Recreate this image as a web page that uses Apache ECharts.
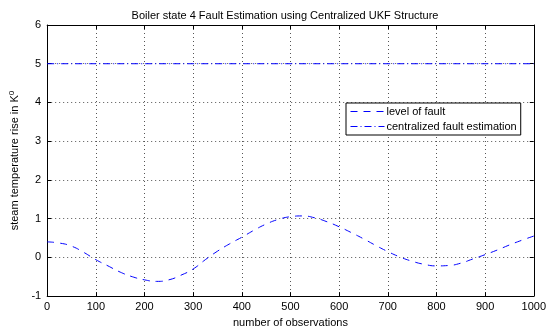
<!DOCTYPE html>
<html><head><meta charset="utf-8">
<script src="https://cdn.jsdelivr.net/npm/echarts@6/dist/echarts.min.js"></script>
<style>html,body{margin:0;padding:0;background:#fff}#c{width:549px;height:333px}</style>
</head><body><div id="c"></div>
<script>
var observations = [0,25,50,75,100,125,150,175,200,225,250,275,300,325,350,375,400,425,450,475,500,525,550,575,600,625,650,675,700,725,750,775,800,825,850,875,900,925,950,975,1000];
var levelOfFault = [0.40,0.37,0.29,0.13,-0.06,-0.22,-0.38,-0.50,-0.58,-0.62,-0.58,-0.46,-0.30,-0.06,0.16,0.35,0.52,0.70,0.86,0.98,1.05,1.07,1.02,0.92,0.79,0.64,0.48,0.31,0.15,0.01,-0.10,-0.18,-0.22,-0.21,-0.15,-0.04,0.07,0.19,0.32,0.44,0.55];
var estimateObs = [0,1000];
var centralizedEstimate = [5,5];
var titleText = 'Boiler state 4 Fault Estimation using Centralized UKF Structure';
var seriesNames = ['level of fault','centralized fault estimation'];

var font = 'Liberation Sans, Arial, Helvetica, sans-serif';
var chart = echarts.init(document.getElementById('c'));
var gridLine = {show:true, lineStyle:{color:'#555', type:[1,3], width:1}};
var tick = {inside:true, length:4, lineStyle:{color:'#000'}};
chart.setOption({
  animation:false,
  title:{text:titleText, left:280, top:5, textAlign:'center',
    textStyle:{fontFamily:font, fontSize:11, fontWeight:'normal', color:'#000'}},
  grid:{left:46, right:12, top:25, bottom:35},
  legend:{orient:'vertical', left:346, top:103, width:189,
    backgroundColor:'#fff', borderColor:'#000', borderWidth:1,
    padding:[3,4,3,4], itemGap:4, itemWidth:34, itemHeight:10,
    itemStyle:{color:'transparent', borderWidth:0, opacity:0},
    lineStyle:{width:1},
    textStyle:{fontFamily:font, fontSize:11, color:'#000', padding:[0,0,0,-3]},
    data:seriesNames},
  xAxis:[{type:'value', min:0, max:1000, interval:100,
    name:'number of observations', nameLocation:'middle', nameGap:18,
    nameTextStyle:{fontFamily:font, fontSize:11, color:'#000'},
    axisLine:{onZero:false, lineStyle:{color:'#000'}},
    axisTick:tick,
    axisLabel:{fontFamily:font, fontSize:11, color:'#000', margin:5, formatter:function(v){return String(v);}},
    splitLine:gridLine},
    {type:'value', position:'top', min:0, max:1000, interval:100,
    axisLine:{show:true, onZero:false, lineStyle:{color:'#000'}}, axisTick:tick,
    axisLabel:{show:false}, splitLine:{show:false}}],
  yAxis:[{type:'value', min:-1, max:6, interval:1,
    name:'steam temperature rise in K{s|0}', nameLocation:'middle', nameGap:24,
    nameTextStyle:{fontFamily:font, fontSize:11, color:'#000',
      rich:{s:{fontFamily:font, fontSize:8, color:'#000', verticalAlign:'top', padding:[0,0,6,0]}}},
    axisLine:{show:true, onZero:false, lineStyle:{color:'#000'}},
    axisTick:tick,
    axisLabel:{fontFamily:font, fontSize:11, color:'#000', margin:6},
    splitLine:gridLine},
    {type:'value', position:'right', min:-1, max:6, interval:1,
    axisLine:{show:true, onZero:false, lineStyle:{color:'#000'}}, axisTick:tick,
    axisLabel:{show:false}, splitLine:{show:false}}],
  series:[
    {name:seriesNames[0], type:'line', smooth:true, symbol:'none',
     data:observations.map(function(x,i){return [x, levelOfFault[i]];}),
     lineStyle:{color:'#0000ff', width:1, type:[7,6]}, itemStyle:{color:'#0000ff'}},
    {name:seriesNames[1], type:'line', symbol:'none',
     data:estimateObs.map(function(x,i){return [x, centralizedEstimate[i]];}),
     lineStyle:{color:'#0000ff', width:1, type:[7,3,1,3]}, itemStyle:{color:'#0000ff'}}
  ]
});
</script></body></html>
